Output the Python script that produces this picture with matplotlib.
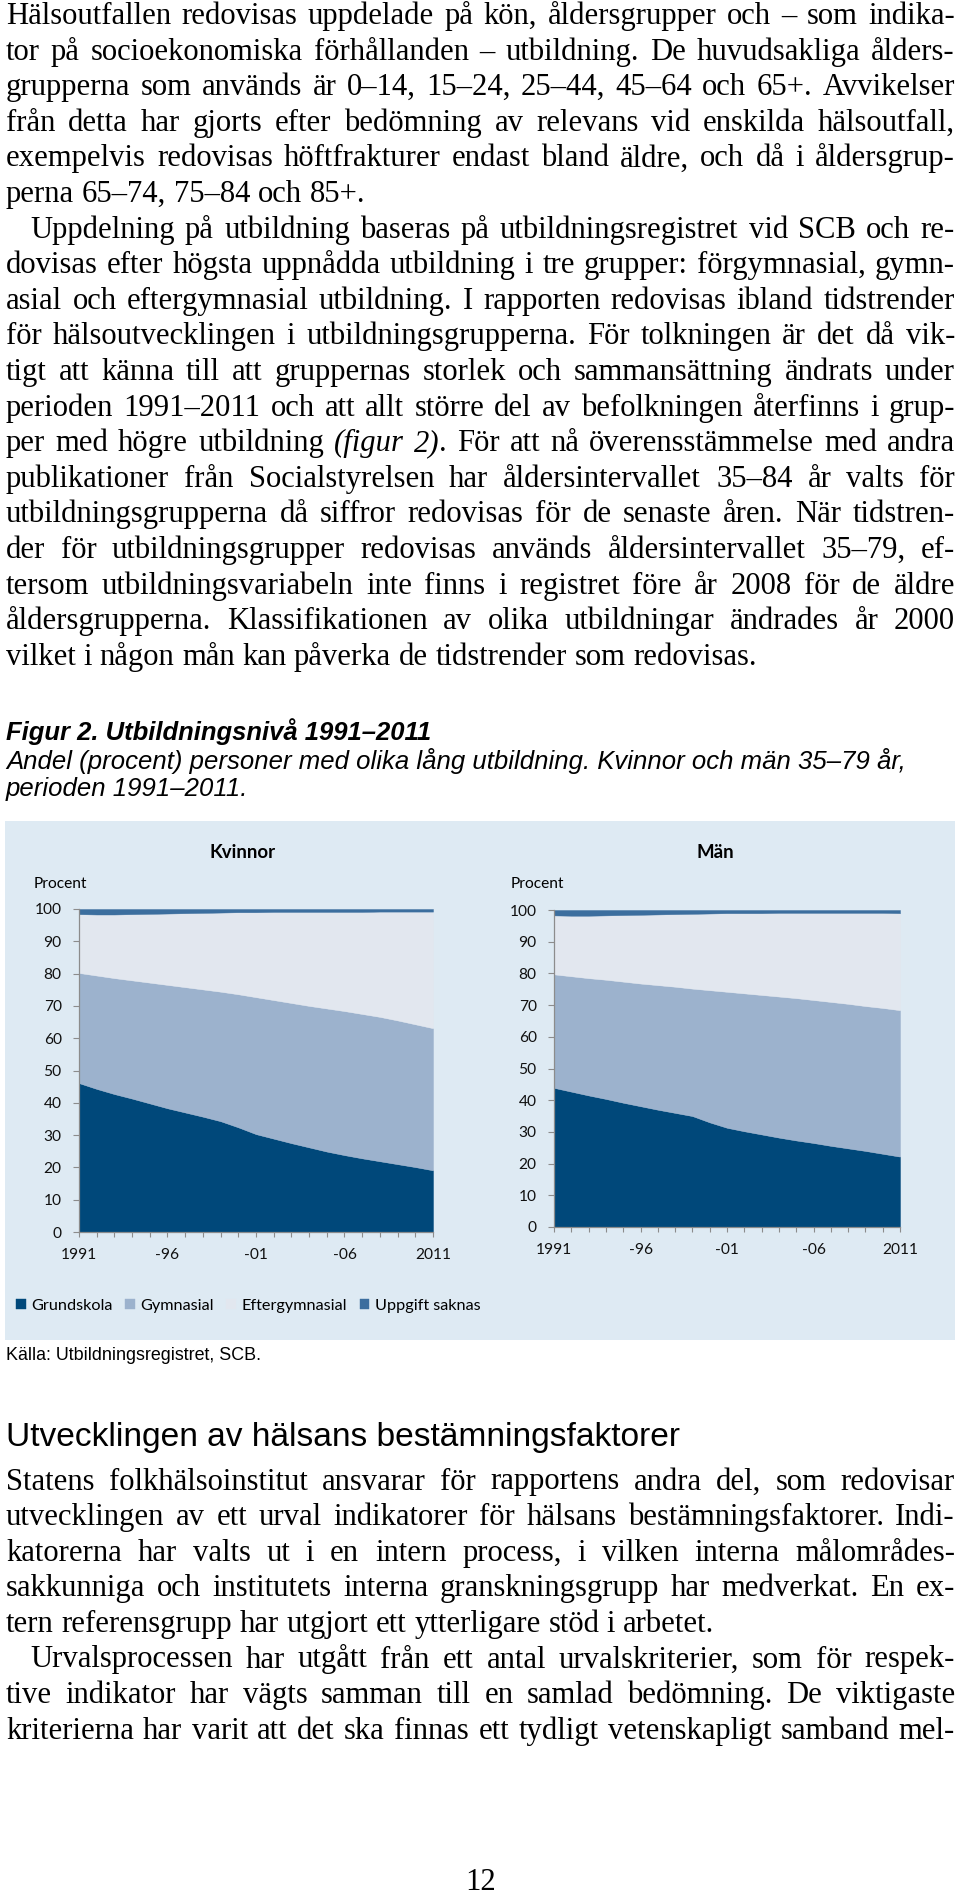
import numpy as np
import matplotlib
matplotlib.use('Agg')
import matplotlib.pyplot as plt
from matplotlib.patches import Rectangle

# chart data (percent)
years = np.arange(1991, 2012)
grund_k = [46.1, 44.3, 42.7, 41.3, 39.8, 38.3, 37.0, 35.7, 34.3, 32.4, 30.3,
           28.9, 27.5, 26.2, 24.9, 23.8, 22.8, 21.9, 21.0, 20.1, 19.1]
gym_k = [34.1, 35.1, 35.9, 36.6, 37.4, 38.2, 38.8, 39.4, 40.1, 41.2, 42.4,
         42.9, 43.4, 43.8, 44.3, 44.6, 44.7, 44.7, 44.5, 44.2, 44.0]
efter_k = [18.2, 18.9, 19.7, 20.5, 21.3, 22.1, 22.9, 23.7, 24.5, 25.4, 26.3,
           27.3, 28.2, 29.1, 29.9, 30.7, 31.6, 32.6, 33.7, 34.9, 36.1]
saknas_k = [1.6, 1.7, 1.7, 1.6, 1.5, 1.4, 1.3, 1.2, 1.1, 1.0, 1.0,
            0.9, 0.9, 0.9, 0.9, 0.9, 0.9, 0.8, 0.8, 0.8, 0.8]

grund_m = [43.9, 42.7, 41.5, 40.4, 39.2, 38.1, 37.0, 36.0, 35.0, 33.0, 31.3,
           30.2, 29.2, 28.2, 27.3, 26.5, 25.6, 24.8, 24.0, 23.1, 22.2]
gym_m = [35.8, 36.4, 37.0, 37.6, 38.2, 38.7, 39.3, 39.8, 40.2, 41.7, 42.9,
         43.5, 44.0, 44.5, 44.9, 45.1, 45.4, 45.6, 45.7, 46.0, 46.2]
efter_m = [18.6, 19.1, 19.7, 20.3, 21.0, 21.7, 22.3, 22.9, 23.6, 24.2, 24.8,
           25.3, 25.8, 26.4, 26.9, 27.5, 28.1, 28.7, 29.4, 30.0, 30.6]
saknas_m = [1.7, 1.8, 1.8, 1.7, 1.6, 1.5, 1.4, 1.3, 1.2, 1.1, 1.0,
            1.0, 1.0, 0.9, 0.9, 0.9, 0.9, 0.9, 0.9, 0.9, 1.0]

series_names = ['Grundskola', 'Gymnasial', 'Eftergymnasial', 'Uppgift saknas']
xtick_years = [1991, 1996, 2001, 2006, 2011]
xtick_labels = ['1991', '-96', '-01', '-06', '2011']

# page text
para1 = [
    "Hälsoutfallen redovisas uppdelade på kön, åldersgrupper och – som indika-",
    "tor på socioekonomiska förhållanden – utbildning. De huvudsakliga ålders-",
    "grupperna som används är 0–14, 15–24, 25–44, 45–64 och 65+. Avvikelser",
    "från detta har gjorts efter bedömning av relevans vid enskilda hälsoutfall,",
    "exempelvis redovisas höftfrakturer endast bland äldre, och då i åldersgrup-",
    "perna 65–74, 75–84 och 85+.",
]
para2 = [
    "Uppdelning på utbildning baseras på utbildningsregistret vid SCB och re-",
    "dovisas efter högsta uppnådda utbildning i tre grupper: förgymnasial, gymn-",
    "asial och eftergymnasial utbildning. I rapporten redovisas ibland tidstrender",
    "för hälsoutvecklingen i utbildningsgrupperna. För tolkningen är det då vik-",
    "tigt att känna till att gruppernas storlek och sammansättning ändrats under",
    "perioden 1991–2011 och att allt större del av befolkningen återfinns i grup-",
    "per med högre utbildning _(figur 2)_. För att nå överensstämmelse med andra",
    "publikationer från Socialstyrelsen har åldersintervallet 35–84 år valts för",
    "utbildningsgrupperna då siffror redovisas för de senaste åren. När tidstren-",
    "der för utbildningsgrupper redovisas används åldersintervallet 35–79, ef-",
    "tersom utbildningsvariabeln inte finns i registret före år 2008 för de äldre",
    "åldersgrupperna. Klassifikationen av olika utbildningar ändrades år 2000",
    "vilket i någon mån kan påverka de tidstrender som redovisas.",
]
para3 = [
    "Statens folkhälsoinstitut ansvarar för rapportens andra del, som redovisar",
    "utvecklingen av ett urval indikatorer för hälsans bestämningsfaktorer. Indi-",
    "katorerna har valts ut i en intern process, i vilken interna målområdes-",
    "sakkunniga och institutets interna granskningsgrupp har medverkat. En ex-",
    "tern referensgrupp har utgjort ett ytterligare stöd i arbetet.",
]
para4 = [
    "Urvalsprocessen har utgått från ett antal urvalskriterier, som för respek-",
    "tive indikator har vägts samman till en samlad bedömning. De viktigaste",
    "kriterierna har varit att det ska finnas ett tydligt vetenskapligt samband mel-",
]

W, H = 960, 1900
fig = plt.figure(figsize=(W / 100, H / 100), dpi=100)
fig.patch.set_facecolor('white')
renderer = fig.canvas.get_renderer()


def fx(x):
    return x / W


def fy(y):
    return 1 - y / H


def text_width(s, **kw):
    t = fig.text(0, 0, s, **kw)
    w = t.get_window_extent(renderer).width
    t.remove()
    return w


def fit_size(s, width, **kw):
    return 20 * width / text_width(s, fontsize=20, **kw)


serif = ['Liberation Serif', 'DejaVu Serif']
sans = ['Liberation Sans', 'DejaVu Sans']
calibri = ['Lato', 'DejaVu Sans']

body_fs = fit_size(para2[-1], 753, family=serif)


def body_style(italic):
    return dict(family=serif, fontsize=body_fs,
                style='italic' if italic else 'normal', color='black')


space_w = text_width("a a", **body_style(False)) - text_width("aa", **body_style(False))

LEFT, RIGHT = 6, 955


def draw_line(line, yb, x0, justify):
    words = []
    italic = False
    for w in line.split():
        parts = w.split('_')
        segs = []
        for k, p in enumerate(parts):
            if k > 0:
                italic = not italic
            if p:
                segs.append((p, italic))
        words.append(segs)
    widths = [sum(text_width(p, **body_style(it)) for p, it in segs) for segs in words]
    if justify and len(words) > 1:
        gap = (RIGHT - x0 - sum(widths)) / (len(words) - 1)
    else:
        gap = space_w
    x = x0
    for segs in words:
        for p, it in segs:
            fig.text(fx(x), fy(yb), p, ha='left', va='baseline', **body_style(it))
            x += text_width(p, **body_style(it))
        x += gap


def draw_par(lines, y0, step, indent=0, last_justified=False):
    for i, line in enumerate(lines):
        last = i == len(lines) - 1
        x0 = LEFT + (indent if i == 0 else 0)
        draw_line(line, y0 + i * step, x0, (not last) or last_justified)


STEP = 35.6
draw_par(para1, 24, STEP)
draw_par(para2, 24 + 6 * STEP, STEP, indent=24)

# figure caption
cap_bold = dict(family=sans, weight='bold', style='italic', color='black')
cap_it = dict(family=sans, style='italic', color='black')
fig.text(fx(LEFT), fy(740), "Figur 2. Utbildningsnivå 1991–2011", va='baseline',
         fontsize=fit_size("Figur 2. Utbildningsnivå 1991–2011", 426, **cap_bold), **cap_bold)
cap_line = "Andel (procent) personer med olika lång utbildning. Kvinnor och män 35–79 år,"
cap_fs = fit_size(cap_line, 897, **cap_it)
fig.text(fx(LEFT), fy(769), cap_line, va='baseline', fontsize=cap_fs, **cap_it)
fig.text(fx(LEFT), fy(796), "perioden 1991–2011.", va='baseline', fontsize=cap_fs, **cap_it)

# chart panel background
fig.add_artist(Rectangle((fx(5), fy(1340)), (955 - 5) / W, (1340 - 821) / H,
                         transform=fig.transFigure, facecolor='#DEEAF3',
                         edgecolor='none', zorder=-5))

colors = ['#00487A', '#9CB2CD', '#E2E7EF', '#3C6E9E']
tick_fs = fit_size("100", 27, family=calibri)
title_fs = fit_size("Kvinnor", 66, family=calibri, weight='bold')
leg_fs = fit_size("Grundskola", 82, family=calibri)


def draw_panel(box, data, title, title_x, procent_x):
    x0, x1, ytop, ybot = box
    ax = fig.add_axes([fx(x0), fy(ybot), (x1 - x0) / W, (ybot - ytop) / H])
    ax.set_facecolor('none')
    polys = ax.stackplot(years, *data, colors=colors, edgecolor='face', linewidth=0.3)
    ax.set_xlim(1991, 2011)
    ax.set_ylim(0, 100)
    ax.set_yticks(range(0, 101, 10))
    ax.set_xticks(years)
    ax.set_xticklabels([xtick_labels[xtick_years.index(y)] if y in xtick_years else ''
                        for y in years])
    for s in ['top', 'right']:
        ax.spines[s].set_visible(False)
    for s in ['left', 'bottom']:
        ax.spines[s].set_color('#8C8C8C')
        ax.spines[s].set_linewidth(0.9)
    ax.tick_params(axis='y', direction='out', length=4.5, width=0.8, color='#8C8C8C',
                   pad=8, labelsize=tick_fs, labelcolor='#111111')
    ax.tick_params(axis='x', direction='out', length=3.5, width=0.8, color='#8C8C8C',
                   pad=8, labelsize=tick_fs, labelcolor='#111111')
    for lab in ax.get_xticklabels() + ax.get_yticklabels():
        lab.set_family(calibri)
    fig.text(fx(title_x), fy(852), title, ha='center', va='center', family=calibri,
             weight='bold', fontsize=title_fs, color='black')
    fig.text(fx(procent_x), fy(884), "Procent", ha='left', va='center', family=calibri,
             fontsize=tick_fs, color='black')
    return polys


polys = draw_panel((79, 433, 909, 1232), [grund_k, gym_k, efter_k, saknas_k],
                   "Kvinnor", 243, 34)
draw_panel((554, 900, 910, 1227), [grund_m, gym_m, efter_m, saknas_m],
           "Män", 715, 511)

fig.legend(polys, series_names, loc='center left', bbox_to_anchor=(fx(16), fy(1306)),
           ncol=4, frameon=False, handlelength=0.6, handleheight=0.6,
           handletextpad=0.35, columnspacing=0.75, borderaxespad=0, borderpad=0,
           prop=dict(family=calibri, size=leg_fs))

fig.text(fx(LEFT), fy(1360), "Källa: Utbildningsregistret, SCB.", va='baseline',
         family=sans, color='black',
         fontsize=fit_size("Källa: Utbildningsregistret, SCB.", 254, family=sans))

# section heading and following text
head = "Utvecklingen av hälsans bestämningsfaktorer"
fig.text(fx(LEFT), fy(1446), head, va='baseline', family=sans, color='black',
         fontsize=fit_size(head, 674, family=sans))
draw_par(para3, 1489.5, STEP)
draw_par(para4, 1489.5 + 5 * STEP, STEP, indent=24, last_justified=True)

fig.text(fx(481), fy(1890), "12", ha='center', va='baseline', **body_style(False))

fig.savefig('out.png', dpi=100, facecolor='white')
